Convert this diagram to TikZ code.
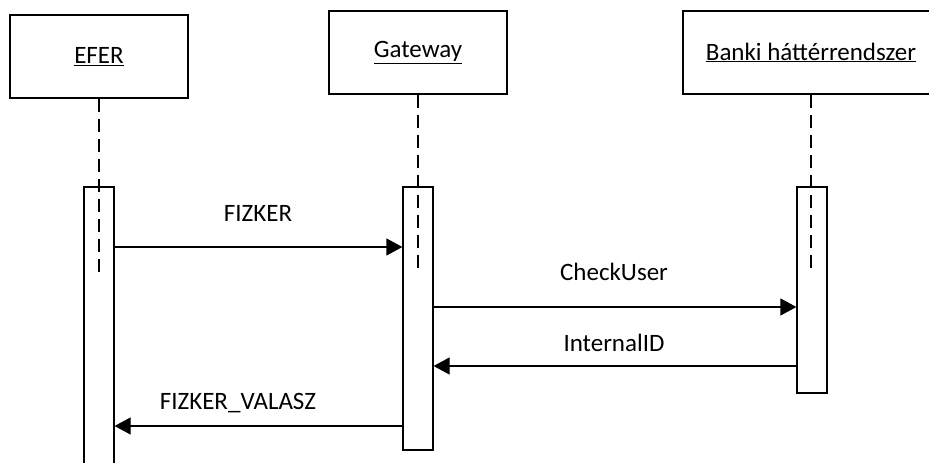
\documentclass[tikz,border=0pt]{standalone}
\usepackage{fontspec}
\setmainfont{Carlito}
\usetikzlibrary{arrows.meta}
\begin{document}
\begin{tikzpicture}[x=1pt,y=-1pt,
  lifebox/.style={draw,line width=1.2pt,minimum height=83pt,inner sep=0pt,font=\fontsize{25}{30}\selectfont},
  actbox/.style={draw,line width=1.2pt,minimum width=30pt,inner sep=0pt},
  lifeline/.style={line width=1.1pt,dash pattern=on 13pt off 7pt},
  msg/.style={line width=1.2pt,-{Triangle[length=16pt,width=17pt]}},
  lbl/.style={font=\fontsize{25}{30}\selectfont,inner sep=0pt}]
\useasboundingbox (0,0) rectangle (929,463);
\clip (0,0) rectangle (929,463);
\fill[white] (0,0) rectangle (929,463);
% lifeline heads
\node[lifebox,minimum width=178pt] (efer) at (99,56.5) {\underline{EFER}};
\node[lifebox,minimum width=178pt] (gw) at (418,52.5) {\underline{Gateway}};
\node[lifebox,minimum width=256pt] (bank) at (811,52.5) {\underline{Banki háttérrendszer}};
% lifeline ends
\coordinate (eferend) at (99,276);
\coordinate (gwend) at (418,274);
\coordinate (bankend) at (811,274);
\draw[lifeline] (efer.south) -- (eferend);
\draw[lifeline] (gw.south) -- (gwend);
\draw[lifeline] (bank.south) -- (bankend);
% activations
\node[actbox,minimum height=300pt] (aefer) at (99,337) {};
\node[actbox,minimum height=263pt] (agw) at (418,318.5) {};
\node[actbox,minimum height=206pt] (abank) at (812,290) {};
% messages
\coordinate (y1) at (0,247);
\coordinate (y2) at (0,307);
\coordinate (y3) at (0,366);
\coordinate (y4) at (0,426);
\draw[msg] (aefer.east |- y1) -- (agw.west |- y1);
\draw[msg] (agw.east |- y2) -- (abank.west |- y2);
\draw[msg] (abank.west |- y3) -- (agw.east |- y3);
\draw[msg] (agw.west |- y4) -- (aefer.east |- y4);
% labels
\node[lbl] (l1) at (258,213) {FIZKER};
\node[lbl] (l2) at (614,272) {CheckUser};
\node[lbl] (l3) at (614,343) {InternalID};
\node[lbl] (l4) at (238,403) {FIZKER\_VALASZ};
\end{tikzpicture}
\end{document}
